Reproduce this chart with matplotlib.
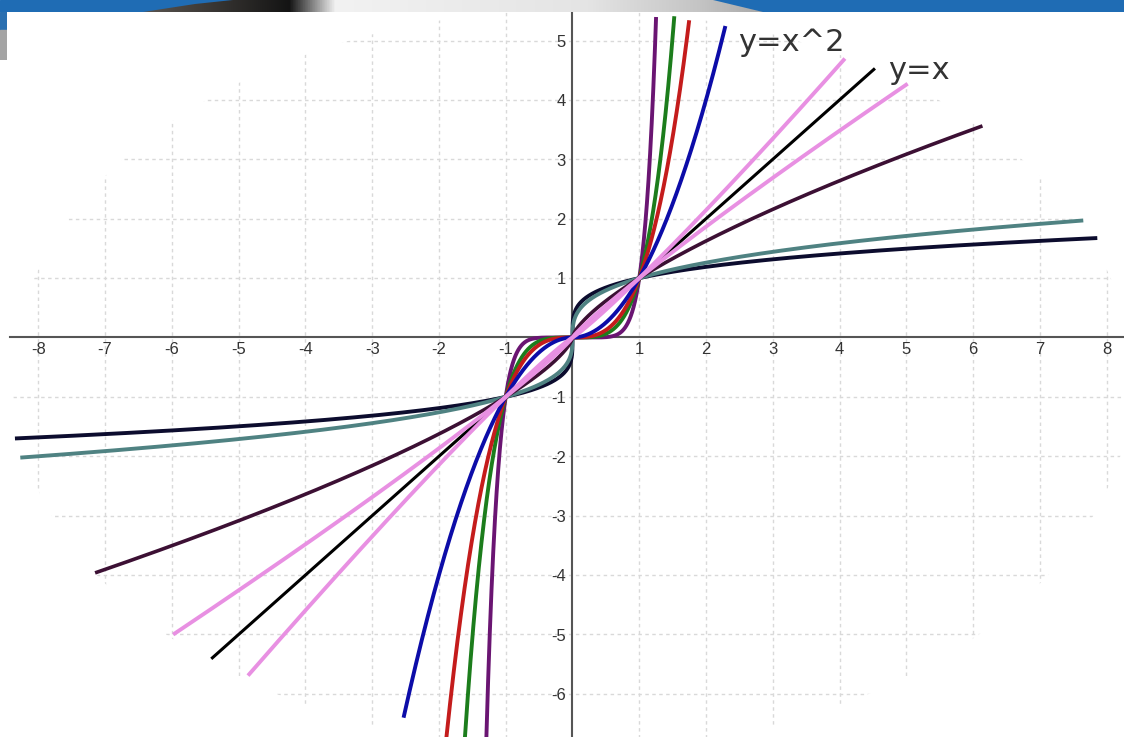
import numpy as np
import matplotlib
matplotlib.use('Agg')
import matplotlib.pyplot as plt
from matplotlib.patches import Ellipse, Polygon, Rectangle
from matplotlib.colors import LinearSegmentedColormap

# power curves y = sign(x)*|x|^p, drawn in this order (pink on top)
powers = [0.25, 1/3, 7.5, 4, 3, 2, 0.7, 1.0, 0.9, 1.1]
x_start = [-8.35, -8.27, -1.30, -1.62, -1.95, -2.53, -7.15, -5.41, -5.98, -4.86]
x_end = [7.86, 7.65, 1.252, 1.525, 1.748, 2.29, 6.14, 4.53, 5.02, 4.08]
colors = ['#0c0c2e', '#4f8282', '#6a1572', '#1c7d1c', '#c41c1c', '#0c0ca8',
          '#3c1034', '#000000', '#e890e2', '#e890e2']
widths = [2.8, 2.8, 2.8, 2.8, 2.8, 2.8, 2.6, 2.2, 2.8, 2.8]

x_ticks = [-8, -7, -6, -5, -4, -3, -2, -1, 1, 2, 3, 4, 5, 6, 7, 8]
y_ticks = [5, 4, 3, 2, 1, -1, -2, -3, -4, -5, -6]
notes = [('y=x^2', 2.48, 4.97), ('y=x', 4.73, 4.50)]

W, H = 1124, 737
fig = plt.figure(figsize=(W / 100, H / 100), dpi=100)
ax = fig.add_axes([0, 0, 1, 1])
ax.set_xlim(-8.574, 8.26)
ax.set_ylim(-6.726, 5.682)
ax.axis('off')

# faded grid only inside an oval area
oval = Ellipse((0, -0.715), 16.77, 12.46, transform=ax.transData, fill=False, edgecolor='none')
ax.add_patch(oval)
gx = ax.vlines(x_ticks, -7, 6, colors='#d9d9d9', linestyles=(0, (2.5, 2.5)), linewidth=1.0, zorder=1)
gy = ax.hlines(y_ticks, -9, 9, colors='#d9d9d9', linestyles=(0, (2.5, 2.5)), linewidth=1.0, zorder=1)
gx.set_clip_path(oval)
gy.set_clip_path(oval)

# axes lines
ax.axhline(0, xmin=10 / W, color='#555555', lw=1.5, zorder=2)
ax.axvline(0, ymax=(H - 13) / H, color='#555555', lw=1.5, zorder=2)

for t in x_ticks:
    ax.text(t, -0.21, str(t), ha='center', va='center', fontsize=12,
            family='Liberation Sans', color='#333333', zorder=3)
for t in y_ticks:
    ax.text(-0.1, t - 0.03, str(t), ha='right', va='center', fontsize=12,
            family='Liberation Sans', color='#333333', zorder=3)

for p, a, b, c, lw in zip(powers, x_start, x_end, colors, widths):
    x = np.linspace(a, b, 3001)
    y = np.sign(x) * np.abs(x) ** p
    ax.plot(x, y, color=c, lw=lw, solid_capstyle='butt', zorder=4)

for txt, tx, ty in notes:
    ax.text(tx, ty, txt, ha='left', va='center', fontsize=22, color='#333333', zorder=5)

# header band
hdr = fig.add_axes([0, 1 - 12 / H, 1, 12 / H])
hdr.axis('off')
hdr.add_patch(Rectangle((0, 0), W, 12, color='#1f6cb4'))
swoosh = Polygon([(143, 12), (195, 4), (233, 0), (713, 0), (763, 12)], closed=True,
                 facecolor='none', edgecolor='none')
hdr.add_patch(swoosh)
stops = [(0.0, '#5a5550'), (0.235, '#141414'), (0.31, '#f2f2f2'),
         (0.72, '#e4e4e4'), (0.9, '#c4c4c4'), (1.0, '#a8a8a8')]
cmap = LinearSegmentedColormap.from_list('hdr', stops)
im = hdr.imshow(np.linspace(0, 1, 256)[None, :], cmap=cmap, aspect='auto',
                extent=(143, 763, 12, 0), zorder=2)
im.set_clip_path(swoosh)
hdr.set_xlim(0, W)
hdr.set_ylim(12, 0)

# small tab at the left edge
tab = fig.add_axes([0, 1 - 60 / H, 7 / W, 48 / H])
tab.axis('off')
tab.set_xlim(0, 1)
tab.set_ylim(60, 12)
tab.add_patch(Rectangle((0, 12), 1, 18, color='#2a6fb0'))
tab.add_patch(Rectangle((0, 30), 1, 30, color='#a4a4a4'))

fig.savefig('out.png', dpi=100)
